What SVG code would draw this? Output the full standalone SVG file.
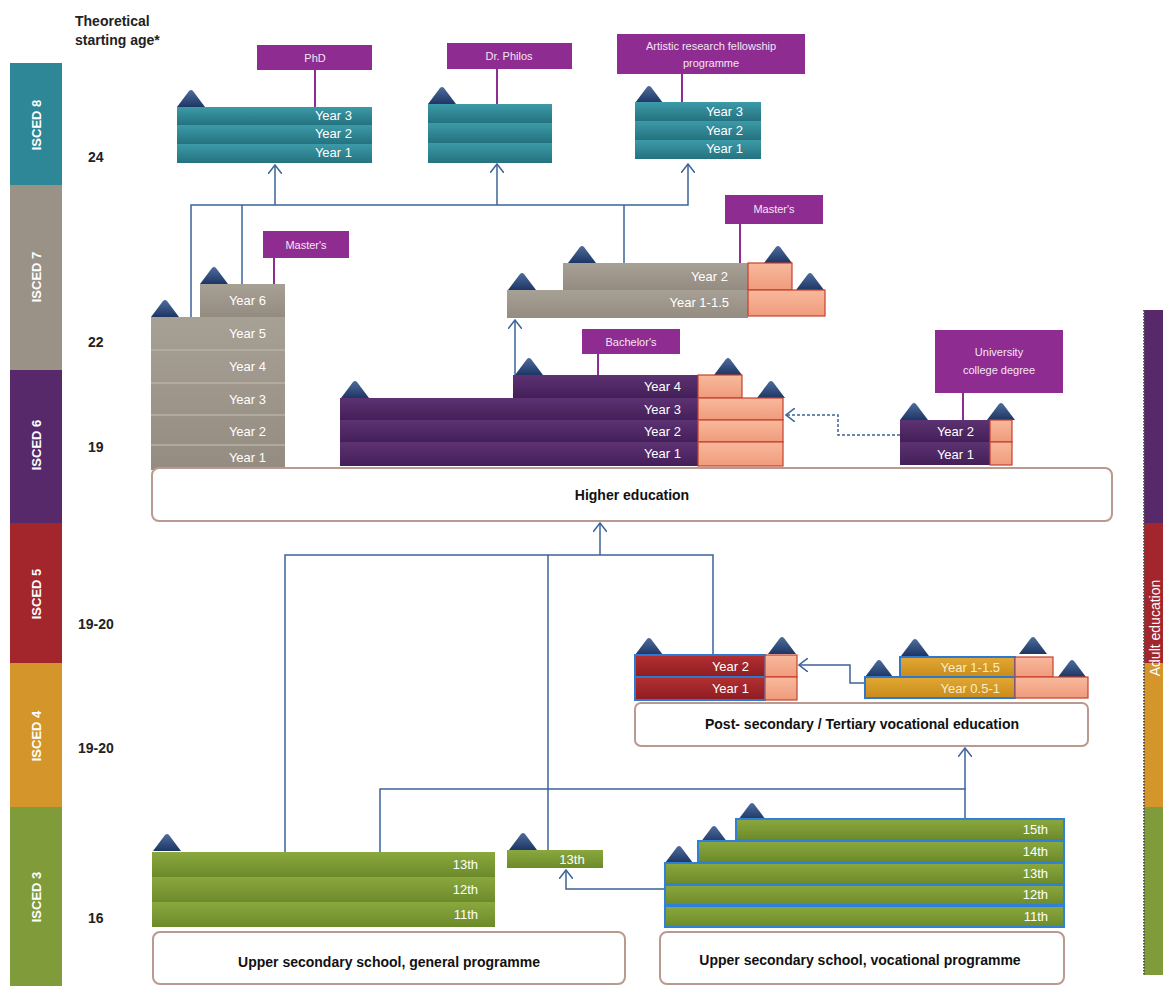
<svg xmlns="http://www.w3.org/2000/svg" width="1163" height="986" viewBox="0 0 1163 986">
<defs>
<style>
.t{font-family:"Liberation Sans",Arial,sans-serif}
.b{font-family:"Liberation Sans",Arial,sans-serif;font-weight:bold}
.yr{font-family:"Liberation Sans",Arial,sans-serif;font-size:13px;fill:#fff;text-anchor:end}
.isced{font-family:"Liberation Sans",Arial,sans-serif;font-weight:bold;font-size:13px;fill:#fff;text-anchor:middle}
.age{font-family:"Liberation Sans",Arial,sans-serif;font-weight:bold;font-size:14px;fill:#222}
.lbl{fill:#8e2c91}
.lbltx{font-family:"Liberation Sans",Arial,sans-serif;font-size:11px;fill:#f3e6f3;text-anchor:middle}
.box{fill:#fff;stroke:#b89a90;stroke-width:2}
.boxtx{font-family:"Liberation Sans",Arial,sans-serif;font-weight:bold;font-size:14px;fill:#111;text-anchor:middle}
.teal{fill:url(#gTeal)}
.gray{fill:url(#gGray)}
.pur{fill:url(#gPur)}
.red{fill:url(#gRed);stroke:#2f78d0;stroke-width:2}
.org{fill:url(#gOrg);stroke:#2f78d0;stroke-width:2}
.grn{fill:url(#gGrn)}
.grnb{fill:url(#gGrn);stroke:#2f80d8;stroke-width:2}
.sal{fill:url(#gSal);stroke:#c6402e;stroke-width:1.2}
.con{fill:none;stroke:#3d6399;stroke-width:1.5}
.dash{fill:none;stroke:#3d6399;stroke-width:1.5;stroke-dasharray:3 2}
.pl{fill:none;stroke:#8e2c91;stroke-width:2}
.sep{stroke:#b8b0a6;stroke-width:1.5}
</style>
<linearGradient id="gTeal" x1="0" y1="0" x2="0" y2="1"><stop offset="0" stop-color="#3d9aa8"/><stop offset="1" stop-color="#24727f"/></linearGradient>
<linearGradient id="gGray" x1="0" y1="0" x2="0" y2="1"><stop offset="0" stop-color="#a7a095"/><stop offset="1" stop-color="#958c81"/></linearGradient>
<linearGradient id="gPur" x1="0" y1="0" x2="0" y2="1"><stop offset="0" stop-color="#5d3272"/><stop offset="1" stop-color="#431f58"/></linearGradient>
<linearGradient id="gRed" x1="0" y1="0" x2="0" y2="1"><stop offset="0" stop-color="#b3302f"/><stop offset="1" stop-color="#8e1c24"/></linearGradient>
<linearGradient id="gOrg" x1="0" y1="0" x2="0" y2="1"><stop offset="0" stop-color="#e2a834"/><stop offset="1" stop-color="#c98b1a"/></linearGradient>
<linearGradient id="gGrn" x1="0" y1="0" x2="0" y2="1"><stop offset="0" stop-color="#8aa83e"/><stop offset="1" stop-color="#6d8a2a"/></linearGradient>
<linearGradient id="gSal" x1="0" y1="0" x2="0" y2="1"><stop offset="0" stop-color="#f8b99c"/><stop offset="1" stop-color="#f09b7c"/></linearGradient>
<linearGradient id="gTri" x1="0" y1="0" x2="0" y2="1"><stop offset="0" stop-color="#4d6c9c"/><stop offset="1" stop-color="#1d3664"/></linearGradient>
<path id="tri" d="M0,18 L12,2 Q14,0 16,2 L28,18 Z" fill="url(#gTri)"/>
<marker id="arr" markerUnits="userSpaceOnUse" viewBox="0 0 10 14" refX="9" refY="7" markerWidth="10" markerHeight="14" orient="auto">
<path d="M0,0 L9,7 L0,14" fill="none" stroke="#3d6399" stroke-width="1.5"/>
</marker>
</defs>
<rect width="1163" height="986" fill="#fff"/>

<!-- Left ISCED scale -->
<g id="isced-scale">
<rect x="10" y="63" width="52" height="122" fill="#2e8796"/>
<rect x="10" y="185" width="52" height="185" fill="#9a9187"/>
<rect x="10" y="370" width="52" height="153" fill="#57296b"/>
<rect x="10" y="523" width="52" height="140" fill="#a2262b"/>
<rect x="10" y="663" width="52" height="144" fill="#d4952a"/>
<rect x="10" y="807" width="52" height="179" fill="#7f9b3a"/>
<text class="isced" transform="translate(41,125) rotate(-90)">ISCED 8</text>
<text class="isced" transform="translate(41,277) rotate(-90)">ISCED 7</text>
<text class="isced" transform="translate(41,445) rotate(-90)">ISCED 6</text>
<text class="isced" transform="translate(41,594) rotate(-90)">ISCED 5</text>
<text class="isced" transform="translate(41,736) rotate(-90)">ISCED 4</text>
<text class="isced" transform="translate(41,897) rotate(-90)">ISCED 3</text>
</g>

<g id="ages">
<text class="age" x="75" y="26" font-size="13">Theoretical</text>
<text class="age" x="75" y="45" font-size="13">starting age*</text>
<text class="age" x="88" y="162">24</text>
<text class="age" x="88" y="347">22</text>
<text class="age" x="88" y="452">19</text>
<text class="age" x="78" y="629">19-20</text>
<text class="age" x="78" y="753">19-20</text>
<text class="age" x="88" y="923">16</text>
</g>

<!-- Right adult education bar -->
<g id="adult-education">
<rect x="1144" y="310" width="30" height="213" fill="#57296b"/>
<rect x="1144" y="523" width="30" height="140" fill="#a2262b"/>
<rect x="1144" y="663" width="30" height="144" fill="#d4952a"/>
<rect x="1144" y="807" width="30" height="168" fill="#7f9b3a"/>
<line x1="1144" y1="310" x2="1144" y2="975" stroke="#555" stroke-width="2" stroke-dasharray="1.5 1.5"/>
<text class="t" transform="translate(1160,628) rotate(-90)" font-size="14" fill="#fff" text-anchor="middle">Adult  education</text>
</g>

<!-- Connectors -->
<g id="connectors">
<path class="con" d="M191,317 V205 H688 V164" marker-end="url(#arr)"/>
<path class="con" d="M242,284 V205"/>
<path class="con" d="M275,205 V165" marker-end="url(#arr)"/>
<path class="con" d="M497,205 V164" marker-end="url(#arr)"/>
<path class="con" d="M624,263 V205"/>
<path class="con" d="M515,375 V320" marker-end="url(#arr)"/>
<path class="dash" d="M900,435 H838 V415 H786" marker-end="url(#arr)"/>
<path class="con" d="M285,852 V555 H713 V655"/>
<path class="con" d="M600,555 V523" marker-end="url(#arr)"/>
<path class="con" d="M548,850 V555"/>
<path class="con" d="M380,852 V789 H965 V819"/>
<path class="con" d="M965,789 V748" marker-end="url(#arr)"/>
<path class="con" d="M665,889 H566 V870" marker-end="url(#arr)"/>
<path class="con" d="M865,683 H850 V665 H799" marker-end="url(#arr)"/>
<path class="pl" d="M315,70 V107"/>
<path class="pl" d="M497,69 V104"/>
<path class="pl" d="M682,74 V102"/>
<path class="pl" d="M274,258 V284"/>
<path class="pl" d="M740,224 V263"/>
<path class="pl" d="M598,354 V375"/>
<path class="pl" d="M963,393 V420"/>
</g>

<!-- ISCED 8 -->
<g id="phd">
<use href="#tri" x="177" y="89"/>
<rect class="teal" x="177" y="107" width="195" height="18"/>
<rect class="teal" x="177" y="125" width="195" height="19"/>
<rect class="teal" x="177" y="144" width="195" height="19"/>
<text class="yr" x="352" y="120">Year 3</text>
<text class="yr" x="352" y="138">Year 2</text>
<text class="yr" x="352" y="157">Year 1</text>
<rect class="lbl" x="257" y="45" width="115" height="25"/>
<text class="lbltx" x="315" y="62" font-size="14">PhD</text>
</g>
<g id="dr-philos">
<use href="#tri" x="428" y="86"/>
<rect class="teal" x="428" y="104" width="124" height="19"/>
<rect class="teal" x="428" y="123" width="124" height="20"/>
<rect class="teal" x="428" y="143" width="124" height="20"/>
<rect class="lbl" x="447" y="43" width="125" height="26"/>
<text class="lbltx" x="509" y="60">Dr. Philos</text>
</g>
<g id="artistic">
<use href="#tri" x="635" y="85"/>
<rect class="teal" x="635" y="102" width="126" height="19"/>
<rect class="teal" x="635" y="121" width="126" height="19"/>
<rect class="teal" x="635" y="140" width="126" height="19"/>
<text class="yr" x="743" y="116">Year 3</text>
<text class="yr" x="743" y="135">Year 2</text>
<text class="yr" x="743" y="153">Year 1</text>
<rect class="lbl" x="617" y="34" width="188" height="40"/>
<text class="lbltx" x="711" y="50">Artistic research fellowship</text>
<text class="lbltx" x="711" y="67">programme</text>
</g>

<!-- ISCED 7 -->
<g id="integrated-master">
<use href="#tri" x="151" y="299"/>
<use href="#tri" x="200" y="266"/>
<rect class="gray" x="200" y="284" width="85" height="33"/>
<rect class="gray" x="151" y="317" width="134" height="153"/>
<line class="sep" x1="151" y1="350" x2="285" y2="350"/>
<line class="sep" x1="151" y1="383" x2="285" y2="383"/>
<line class="sep" x1="151" y1="415" x2="285" y2="415"/>
<line class="sep" x1="151" y1="445" x2="285" y2="445"/>
<text class="yr" x="266" y="305">Year 6</text>
<text class="yr" x="266" y="338">Year 5</text>
<text class="yr" x="266" y="371">Year 4</text>
<text class="yr" x="266" y="404">Year 3</text>
<text class="yr" x="266" y="436">Year 2</text>
<text class="yr" x="266" y="462">Year 1</text>
<rect class="lbl" x="263" y="231" width="86" height="27"/>
<text class="lbltx" x="306" y="249">Master's</text>
</g>
<g id="master">
<use href="#tri" x="508" y="272"/>
<use href="#tri" x="568" y="245"/>
<use href="#tri" x="764" y="245"/>
<use href="#tri" x="796" y="272"/>
<rect class="gray" x="563" y="263" width="185" height="27"/>
<rect class="sal" x="748" y="263" width="44" height="27"/>
<rect class="gray" x="507" y="290" width="241" height="28"/>
<rect class="sal" x="748" y="290" width="77" height="26"/>
<text class="yr" x="728" y="281">Year 2</text>
<text class="yr" x="729" y="307">Year 1-1.5</text>
<rect class="lbl" x="725" y="195" width="98" height="29"/>
<text class="lbltx" x="774" y="213">Master's</text>
</g>

<!-- ISCED 6 -->
<g id="bachelor">
<use href="#tri" x="341" y="380"/>
<use href="#tri" x="515" y="357"/>
<use href="#tri" x="714" y="357"/>
<use href="#tri" x="757" y="380"/>
<rect class="pur" x="513" y="375" width="185" height="23"/>
<rect class="sal" x="698" y="375" width="44" height="23"/>
<rect class="pur" x="340" y="398" width="358" height="22"/>
<rect class="sal" x="698" y="398" width="85" height="22"/>
<rect class="pur" x="340" y="420" width="358" height="22"/>
<rect class="sal" x="698" y="420" width="85" height="22"/>
<rect class="pur" x="340" y="442" width="358" height="24"/>
<rect class="sal" x="698" y="442" width="85" height="24"/>
<text class="yr" x="681" y="391">Year 4</text>
<text class="yr" x="681" y="414">Year 3</text>
<text class="yr" x="681" y="436">Year 2</text>
<text class="yr" x="681" y="458">Year 1</text>
<rect class="lbl" x="582" y="329" width="98" height="25"/>
<text class="lbltx" x="631" y="346">Bachelor's</text>
</g>
<g id="university-college">
<use href="#tri" x="900" y="402"/>
<use href="#tri" x="987" y="402"/>
<rect class="pur" x="900" y="420" width="90" height="22"/>
<rect class="sal" x="990" y="420" width="22" height="22"/>
<rect class="pur" x="900" y="442" width="90" height="23"/>
<rect class="sal" x="990" y="442" width="22" height="23"/>
<text class="yr" x="974" y="436" font-size="14">Year 2</text>
<text class="yr" x="974" y="459" font-size="14">Year 1</text>
<rect class="lbl" x="935" y="330" width="128" height="63"/>
<text class="lbltx" x="999" y="356">University</text>
<text class="lbltx" x="999" y="374">college degree</text>
</g>
<g id="higher-education">
<rect class="box" x="152" y="468" width="960" height="53" rx="7"/>
<text class="boxtx" x="632" y="500">Higher education</text>
</g>

<!-- ISCED 5 / 4 -->
<g id="tertiary-vocational-isced5">
<use href="#tri" x="635" y="637"/>
<use href="#tri" x="768" y="636"/>
<rect class="red" x="635" y="655" width="130" height="22"/>
<rect class="sal" x="765" y="655" width="32" height="22"/>
<rect class="red" x="635" y="677" width="130" height="23"/>
<rect class="sal" x="765" y="677" width="32" height="23"/>
<text class="yr" x="749" y="671">Year 2</text>
<text class="yr" x="749" y="693">Year 1</text>
</g>
<g id="tertiary-vocational-isced4">
<use href="#tri" x="865" y="659"/>
<use href="#tri" x="901" y="638"/>
<use href="#tri" x="1019" y="636"/>
<use href="#tri" x="1058" y="659"/>
<rect class="org" x="900" y="657" width="115" height="20"/>
<rect class="sal" x="1015" y="657" width="38" height="20"/>
<rect class="org" x="865" y="677" width="150" height="21"/>
<rect class="sal" x="1015" y="677" width="73" height="21"/>
<text class="yr" x="1000" y="672" font-size="14" style="fill:#f8ecc8">Year 1-1.5</text>
<text class="yr" x="1000" y="693" font-size="14" style="fill:#f8ecc8">Year 0.5-1</text>
</g>
<g id="post-secondary">
<rect class="box" x="635" y="703" width="453" height="43" rx="6"/>
<text class="boxtx" x="862" y="729">Post- secondary / Tertiary vocational education</text>
</g>

<!-- ISCED 3 -->
<g id="general-programme-stack">
<use href="#tri" x="153" y="833"/>
<rect class="grn" x="152" y="852" width="343" height="25"/>
<rect class="grn" x="152" y="877" width="343" height="25"/>
<rect class="grn" x="152" y="902" width="343" height="25"/>
<text class="yr" x="478" y="869">13th</text>
<text class="yr" x="478" y="894">12th</text>
<text class="yr" x="478" y="919">11th</text>
</g>
<g id="general-13th-extra">
<use href="#tri" x="509" y="832"/>
<rect class="grn" x="507" y="850" width="96" height="18"/>
<text class="yr" x="572" y="864" style="text-anchor:middle">13th</text>
</g>
<g id="general-programme">
<rect class="box" x="153" y="932" width="472" height="52" rx="7"/>
<text class="boxtx" x="389" y="967">Upper secondary school, general programme</text>
</g>
<g id="vocational-programme-stack">
<use href="#tri" x="665" y="845"/>
<use href="#tri" x="700" y="825"/>
<use href="#tri" x="738" y="802"/>
<rect class="grnb" x="736" y="819" width="328" height="21"/>
<rect class="grnb" x="698" y="841" width="366" height="21"/>
<rect class="grnb" x="665" y="863" width="399" height="21"/>
<rect class="grnb" x="665" y="885" width="399" height="20"/>
<rect class="grnb" x="665" y="906" width="399" height="21"/>
<text class="yr" x="1048" y="834">15th</text>
<text class="yr" x="1048" y="856">14th</text>
<text class="yr" x="1048" y="878">13th</text>
<text class="yr" x="1048" y="899">12th</text>
<text class="yr" x="1048" y="921">11th</text>
</g>
<g id="vocational-programme">
<rect class="box" x="660" y="932" width="404" height="52" rx="7"/>
<text class="boxtx" x="860" y="965">Upper secondary school,  vocational programme</text>
</g>
</svg>
